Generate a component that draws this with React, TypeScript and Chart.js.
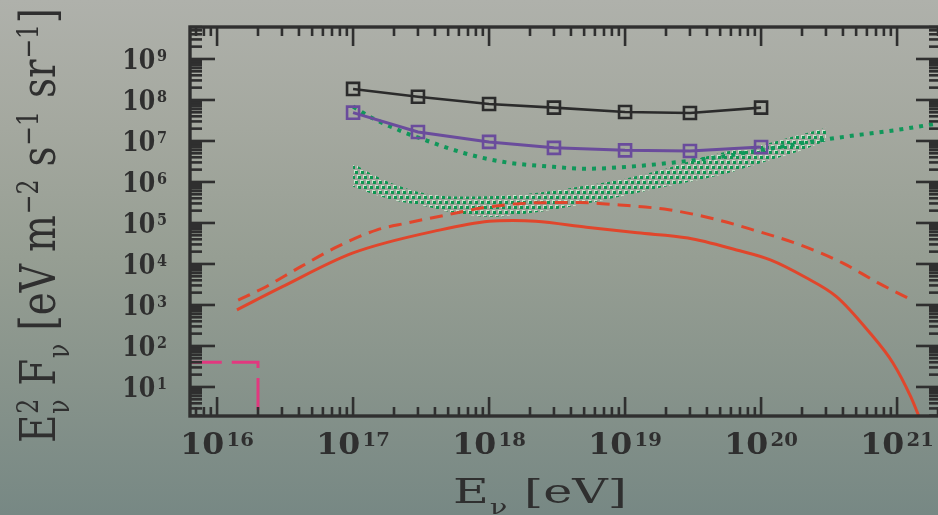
import React, { useEffect, useRef } from "react";
import { Chart, registerables } from "chart.js";

Chart.register(...registerables);

// ---------- axis ranges ----------
const X_MIN = Math.pow(10, 15.801);
const X_MAX = Math.pow(10, 21.323);
const Y_MIN = Math.pow(10, 0.292);
const Y_MAX = Math.pow(10, 9.78);

// ---------- texts ----------
const X_TITLE = "E_ν [eV]";
const Y_TITLE = "E²_ν F_ν [eV m⁻² s⁻¹ sr⁻¹]";

// ---------- data ----------
// square-marker curves
const simEnergy = [1e17, 3e17, 1e18, 3e18, 1e19, 3e19, 1e20];
const blackFlux = [1.86e8, 1.2e8, 8.0e7, 6.5e7, 5.1e7, 4.8e7, 6.5e7];
const purpleFlux = [4.9e7, 1.66e7, 9.5e6, 6.8e6, 5.9e6, 5.7e6, 7.1e6];

// red solid curve
const solidEnergy = [1.4e16, 3e16, 1e17, 4.4e17, 1e18, 1.5e18, 2.2e18, 5.2e18, 1.23e19, 2.9e19, 6.6e19, 1.17e20, 2.1e20, 3.6e20, 6.3e20, 9.3e20, 1.26e21, 1.45e21];
const solidFlux = [7.6e2, 2.75e3, 1.86e4, 6.8e4, 1.1e5, 1.15e5, 1.1e5, 7.9e4, 5.75e4, 4.3e4, 2.2e4, 1.26e4, 4.8e3, 1.58e3, 2.1e2, 39, 5.8, 1.9];

// red dashed curve
const dashedEnergy = [1.43e16, 2.2e16, 4.1e16, 7.6e16, 1.5e17, 2.5e17, 4.9e17, 9.8e17, 2.2e18, 4.7e18, 9.1e18, 2.1e19, 4.5e19, 8.7e19, 1.95e20, 4e20, 7.2e20, 1.32e21];
const dashedFlux = [1.32e3, 2.6e3, 8.5e3, 2.6e4, 6.8e4, 1e5, 1.58e5, 2.45e5, 3.1e5, 3.15e5, 2.75e5, 2.1e5, 1.26e5, 6.8e4, 2.9e4, 1.05e4, 3.5e3, 1.26e3];

// green dotted curve
const dottedEnergy = [1e17, 1.33e17, 2.34e17, 3.7e17, 6.5e17, 1.26e18, 2.95e18, 5.2e18, 1.23e19, 2.1e19, 5e19, 1e20, 1.78e20, 3.16e20, 5.6e20, 1e21, 2.1e21];
const dottedFlux = [6.9e7, 3.9e7, 1.66e7, 9.5e6, 5.1e6, 3.1e6, 2.34e6, 2.1e6, 2.45e6, 2.9e6, 4.1e6, 6.0e6, 8.3e6, 1.12e7, 1.45e7, 1.86e7, 2.75e7];

// green stippled band
const bandEnergy = [1e17, 1.33e17, 2.0e17, 3.16e17, 5.6e17, 1e18, 1.78e18, 3.16e18, 5.6e18, 1e19, 1.78e19, 3.16e19, 5.6e19, 1e20, 1.78e20, 3.0e20];
const bandUpper = [2.88e6, 1.66e6, 8.9e5, 5.5e5, 4.4e5, 4.5e5, 5.0e5, 6.3e5, 8.5e5, 1.2e6, 1.9e6, 3.4e6, 5.5e6, 7.9e6, 1.32e7, 2.1e7];
const bandLower = [7.6e5, 5.4e5, 3.6e5, 2.7e5, 1.74e5, 1.41e5, 1.66e5, 2.2e5, 3.1e5, 4.7e5, 7.1e5, 1.05e6, 1.62e6, 2.9e6, 5.2e6, 1.0e7];

// magenta dashed limit box
const limitEnergy = [6.3e15, 2e16, 2e16];
const limitFlux = [40, 40, 1];

const pts = (xs: number[], ys: number[]) => xs.map((x, i) => ({ x, y: ys[i] }));

function makeStipple(): CanvasPattern | string {
  const W = 6;
  const H = 10;
  const c = document.createElement("canvas");
  c.width = W;
  c.height = H;
  const g = c.getContext("2d");
  if (!g) return "rgba(16,154,85,0.5)";
  const dot = (x: number, y: number) => {
    for (const dx of [-W, 0, W]) {
      for (const dy of [-H, 0, H]) {
        g.fillStyle = "#cbe5cd";
        g.fillRect(x + dx - 1, y + dy - 1, 3, 1);
        g.fillRect(x + dx - 1, y + dy, 1, 2);
        g.fillStyle = "#0e9652";
        g.fillRect(x + dx, y + dy, 3, 3);
      }
    }
  };
  dot(1, 1);
  dot(4, 6);
  return g.createPattern(c, "repeat") || "rgba(16,154,85,0.5)";
}

function logTicks(min: number, max: number) {
  const out: { v: number; major: boolean; e: number }[] = [];
  const e0 = Math.floor(Math.log10(min));
  const e1 = Math.ceil(Math.log10(max));
  for (let e = e0; e <= e1; e++) {
    for (let m = 1; m <= 9; m++) {
      const v = m * Math.pow(10, e);
      if (v >= min * 0.9999 && v <= max * 1.0001) out.push({ v, major: m === 1, e });
    }
  }
  return out;
}

type Piece = { n?: string; sup?: string; sub?: string };

function parseTitle(s: string): Piece[] {
  const supMap: Record<string, string> = { "⁻": "−", "¹": "1", "²": "2", "³": "3" };
  const pieces: Piece[] = [];
  let i = 0;
  while (i < s.length) {
    const ch = s[i];
    if (ch === "_") {
      const last = pieces[pieces.length - 1];
      if (last && last.sup !== undefined && last.sub === undefined && !last.n) last.sub = s[i + 1];
      else pieces.push({ sub: s[i + 1] });
      i += 2;
      continue;
    }
    if (supMap[ch] !== undefined) {
      let t = "";
      while (i < s.length && supMap[s[i]] !== undefined) {
        t += supMap[s[i]];
        i++;
      }
      pieces.push({ sup: t });
      continue;
    }
    let t = "";
    while (i < s.length && s[i] !== "_" && supMap[s[i]] === undefined) {
      t += s[i];
      i++;
    }
    pieces.push({ n: t });
  }
  return pieces;
}

function drawRich(
  ctx: CanvasRenderingContext2D,
  text: string,
  size: number,
  targetLen: number,
  supRise: number,
  subDrop: number
) {
  const fam = '"DejaVu Serif", serif';
  const fN = `${size}px ${fam}`;
  const fS = `${Math.round(size * 0.6)}px ${fam}`;
  const pieces = parseTitle(text);
  const widths = pieces.map((p) => {
    if (p.n !== undefined) {
      ctx.font = fN;
      return ctx.measureText(p.n).width;
    }
    ctx.font = fS;
    const a = p.sup ? ctx.measureText(p.sup).width : 0;
    const b = p.sub ? ctx.measureText(p.sub).width : 0;
    return Math.max(a, b) + size * 0.04;
  });
  const total = widths.reduce((a, b) => a + b, 0);
  const sx = targetLen / total;
  ctx.scale(sx, 1);
  let x = 0;
  pieces.forEach((p, i) => {
    if (p.n !== undefined) {
      ctx.font = fN;
      ctx.fillText(p.n, x, 0);
    } else {
      ctx.font = fS;
      if (p.sup) ctx.fillText(p.sup, x + size * 0.02, -supRise);
      if (p.sub) ctx.fillText(p.sub, x + size * 0.02, subDrop);
    }
    x += widths[i];
  });
}

function drawPower(
  ctx: CanvasRenderingContext2D,
  e: number,
  anchorX: number,
  baseline: number,
  align: "right" | "center",
  baseSize: number,
  supSize: number,
  baseWidth: number
) {
  const fam = '"DejaVu Serif", serif';
  const fB = `bold ${baseSize}px ${fam}`;
  const fS = `bold ${supSize}px ${fam}`;
  ctx.save();
  ctx.font = fB;
  const wb = ctx.measureText("10").width;
  const sx = baseWidth / wb;
  ctx.font = fS;
  const ws = ctx.measureText(String(e)).width;
  const gap = 2;
  const total = (wb + gap + ws) * sx;
  const left = align === "right" ? anchorX - total : anchorX - total / 2;
  ctx.translate(left, baseline);
  ctx.scale(sx, 1);
  ctx.font = fB;
  ctx.fillText("10", 0, 0);
  ctx.font = fS;
  const rise = (baseSize - supSize) * 0.729;
  ctx.fillText(String(e), wb + gap, -rise);
  ctx.restore();
}

const decorPlugin = {
  id: "decor",
  afterDatasetsDraw(chart: any) {
    const { ctx, chartArea: a, scales } = chart;
    const x = scales.x;
    const y = scales.y;
    const ink = "#2f2f2f";
    ctx.save();
    ctx.strokeStyle = ink;
    ctx.fillStyle = ink;
    ctx.lineCap = "butt";
    const seg = (x1: number, y1: number, x2: number, y2: number) => {
      ctx.beginPath();
      ctx.moveTo(x1, y1);
      ctx.lineTo(x2, y2);
      ctx.stroke();
    };
    ctx.lineWidth = 2.6;
    const xt = logTicks(x.min, x.max);
    xt.forEach((t) => {
      const px = x.getPixelForValue(t.v);
      const len = t.major ? 19 : 9;
      seg(px, a.bottom, px, a.bottom - len);
      seg(px, a.top, px, a.top + len);
    });
    const yt = logTicks(y.min, y.max);
    yt.forEach((t) => {
      const py = y.getPixelForValue(t.v);
      const len = t.major ? 25 : 12;
      seg(a.left, py, a.left + len, py);
      seg(a.right, py, a.right - len, py);
    });
    ctx.lineWidth = 3.4;
    ctx.strokeRect(a.left, a.top, a.right - a.left, a.bottom - a.top);

    // tick labels
    ctx.textBaseline = "alphabetic";
    ctx.textAlign = "left";
    xt.filter((t) => t.major).forEach((t) => {
      const px = x.getPixelForValue(t.v);
      drawPower(ctx, t.e, px, 454, "center", 29, 18, 44);
    });
    yt.filter((t) => t.major).forEach((t) => {
      const py = y.getPixelForValue(t.v);
      drawPower(ctx, t.e, 167, py + 10.3, "right", 28, 17, 33);
    });

    // axis titles
    ctx.save();
    ctx.translate(453, 503);
    drawRich(ctx, X_TITLE, 34, 174, 13, 11);
    ctx.restore();

    ctx.save();
    ctx.translate(55, 443);
    ctx.rotate(-Math.PI / 2);
    drawRich(ctx, Y_TITLE, 48, 435, 17, 14);
    ctx.restore();

    ctx.restore();
  },
};

export default function App() {
  const ref = useRef<HTMLCanvasElement | null>(null);

  useEffect(() => {
    if (!ref.current) return;
    const stipple = makeStipple();
    const common = { pointRadius: 0, pointHoverRadius: 0, fill: false };
    const chart = new Chart(ref.current, {
      type: "line",
      data: {
        datasets: [
          {
            ...common,
            label: "band upper",
            data: pts(bandEnergy, bandUpper),
            borderWidth: 0,
            borderColor: "rgba(0,0,0,0)",
            backgroundColor: stipple as any,
            fill: "+1",
            cubicInterpolationMode: "monotone",
            order: 10,
          },
          {
            ...common,
            label: "band lower",
            data: pts(bandEnergy, bandLower),
            borderWidth: 0,
            borderColor: "rgba(0,0,0,0)",
            cubicInterpolationMode: "monotone",
            order: 10,
          },
          {
            ...common,
            label: "red solid",
            data: pts(solidEnergy, solidFlux),
            borderColor: "#e0462c",
            borderWidth: 3,
            cubicInterpolationMode: "monotone",
            order: 6,
          },
          {
            ...common,
            label: "red dashed",
            data: pts(dashedEnergy, dashedFlux),
            borderColor: "#e0462c",
            borderWidth: 3,
            borderDash: [13, 8],
            cubicInterpolationMode: "monotone",
            order: 5,
          },
          {
            ...common,
            label: "green dotted",
            data: pts(dottedEnergy, dottedFlux),
            borderColor: "#10975a",
            borderWidth: 4,
            borderDash: [4, 6],
            borderCapStyle: "butt",
            cubicInterpolationMode: "monotone",
            order: 4,
          },
          {
            label: "purple",
            data: pts(simEnergy, purpleFlux),
            borderColor: "#6a4c9c",
            borderWidth: 3,
            pointStyle: "rect",
            pointRadius: 8.5,
            pointBorderWidth: 2.6,
            pointBorderColor: "#6a4c9c",
            pointBackgroundColor: "rgba(0,0,0,0)",
            tension: 0,
            fill: false,
            order: 2,
          },
          {
            label: "black",
            data: pts(simEnergy, blackFlux),
            borderColor: "#2b2b2b",
            borderWidth: 2.6,
            pointStyle: "rect",
            pointRadius: 8.5,
            pointBorderWidth: 2.6,
            pointBorderColor: "#2b2b2b",
            pointBackgroundColor: "rgba(0,0,0,0)",
            tension: 0,
            fill: false,
            order: 1,
          },
          {
            ...common,
            label: "limit",
            data: pts(limitEnergy, limitFlux),
            borderColor: "#e2387f",
            borderWidth: 3,
            borderDash: [32, 10],
            tension: 0,
            order: 0,
          },
        ],
      },
      options: {
        responsive: false,
        animation: false,
        devicePixelRatio: 1,
        events: [],
        layout: { autoPadding: false, padding: { top: 27, right: 3, left: 0, bottom: 0 } },
        plugins: {
          legend: { display: false },
          tooltip: { enabled: false },
          title: { display: false },
        },
        scales: {
          x: {
            type: "logarithmic",
            min: X_MIN,
            max: X_MAX,
            grid: { display: false, drawTicks: false },
            border: { display: false },
            ticks: { display: false },
            title: { display: false, text: X_TITLE },
            afterFit: (s: any) => {
              s.height = 99;
            },
          },
          y: {
            type: "logarithmic",
            min: Y_MIN,
            max: Y_MAX,
            grid: { display: false, drawTicks: false },
            border: { display: false },
            ticks: { display: false },
            title: { display: false, text: Y_TITLE },
            afterFit: (s: any) => {
              s.width = 190;
            },
          },
        },
      } as any,
      plugins: [decorPlugin],
    });
    return () => chart.destroy();
  }, []);

  return (
    <div
      style={{
        position: "fixed",
        left: 0,
        top: 0,
        width: 938,
        height: 515,
        overflow: "hidden",
        background:
          "linear-gradient(to bottom, #afb1ab 0%, #a4a89f 25%, #969e93 50%, #87938b 75%, #778884 100%)",
      }}
    >
      <canvas ref={ref} width={944} height={515} style={{ display: "block" }} />
    </div>
  );
}
